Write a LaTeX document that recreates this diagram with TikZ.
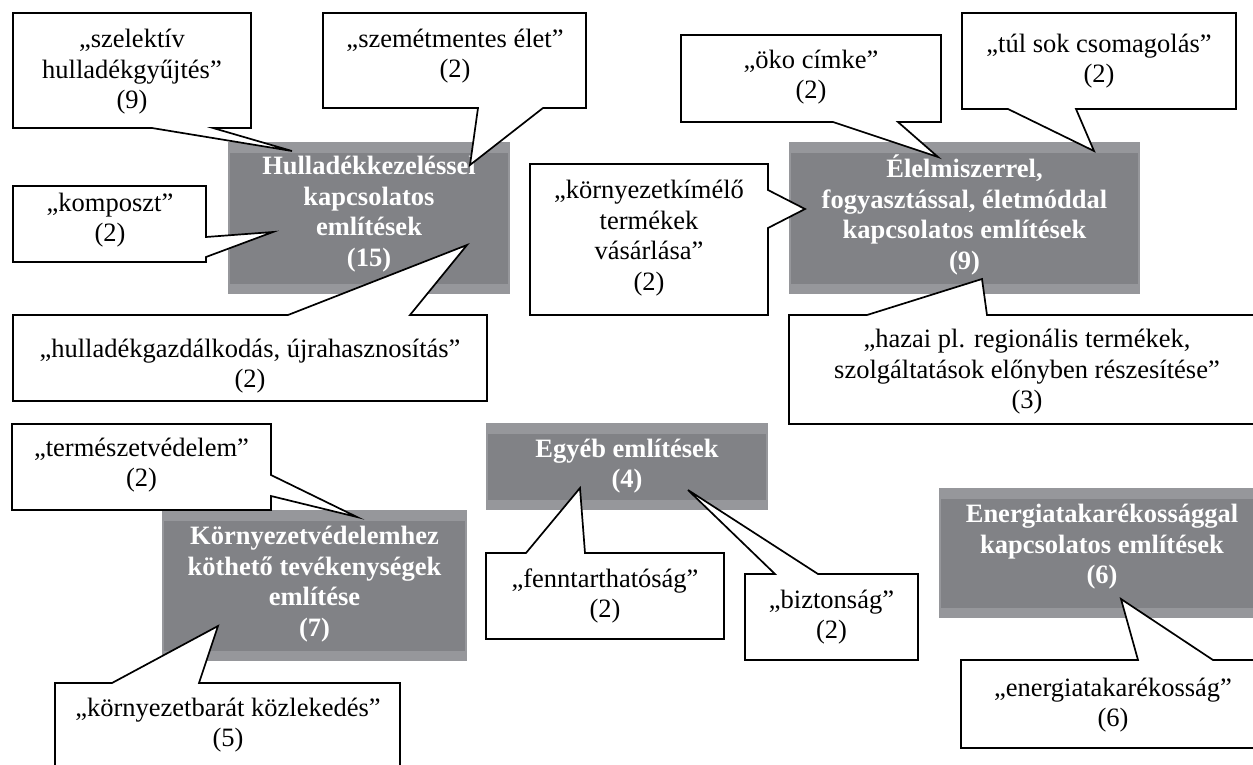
\documentclass[tikz,border=0pt]{standalone}
\usepackage{fontspec}
\setmainfont{Liberation Serif}
\definecolor{boxouter}{RGB}{150,151,155}
\definecolor{boxinner}{RGB}{129,130,134}
\tikzset{
  gbox/.style={rectangle, fill=boxouter, draw=none, inner sep=0pt},
  gtext/.style={text=white, font=\fontsize{26.5}{30.5}\selectfont\bfseries, align=center, inner sep=0pt},
  ctext/.style={text=black, font=\fontsize{26.5}{30.5}\selectfont, align=center, inner sep=0pt},
  callout/.style={fill=white, draw=black, line width=1.7pt, line join=miter},
}
\newcommand{\greybox}[4]{%
  % #1 name, #2 centre, #3 width, #4 height
  \node[gbox, minimum width=#3pt, minimum height=#4pt] (#1) at (#2) {};
  \fill[boxinner] ([xshift=2pt,yshift=-11pt]#1.north west) rectangle ([xshift=-2pt,yshift=10pt]#1.south east);
}
\begin{document}
\begin{tikzpicture}[x=1pt,y=-1pt]
\useasboundingbox (0,0) rectangle (1253,764);
\clip (0,0) rectangle (1253,764);
\fill[white] (0,0) rectangle (1253,764);

% ---------- grey category boxes ----------
\greybox{g1}{369,218}{282}{152}
\node[gtext] (t1) at (369,214) {Hulladékkezeléssel\\kapcsolatos\\említések\\(15)};

\greybox{g2}{964.5,218}{351}{152}
\node[gtext] (t2) at (964.5,215) {Élelmiszerrel,\\fogyasztással, életmóddal\\kapcsolatos említések\\(9)};

\greybox{g3}{627,466.5}{282}{87}
\node[gtext] (t3) at (627,466) {Egyéb említések\\(4)};

\greybox{g4}{314.5,585.5}{305}{151}
\node[gtext] (t4) at (314.5,584) {Környezetvédelemhez\\köthető tevékenységek\\említése\\(7)};

\greybox{g5}{1102,553}{326}{130}
\node[gtext] (t5) at (1102,547) {Energiatakarékossággal\\kapcsolatos említések\\(6)};

% ---------- callouts ----------
% szelektív
\coordinate (p1) at (292,151);
\path[callout] (13,13) -- (251,13) -- (251,128) -- (213,128) -- (p1) -- (152,128) -- (13,128) -- cycle;
\node[ctext] (c1) at (132,72) {„szelektív\\hulladékgyűjtés”\\(9)};

% szemétmentes
\coordinate (p2) at (470,165);
\path[callout] (323,13) -- (586,13) -- (586,108) -- (543,108) -- (p2) -- (478,108) -- (323,108) -- cycle;
\node[ctext] (c2) at (455,56) {„szemétmentes élet”\\(2)};

% komposzt
\coordinate (p3) at (273,232);
\path[callout] (13,186) -- (206,186) -- (206,237) -- (p3) -- (206,257) -- (206,262) -- (13,262) -- cycle;
\node[ctext] (c3) at (110,220) {„komposzt”\\(2)};

% hulladékgazdálkodás
\coordinate (p4) at (467,245);
\path[callout] (13,315) -- (288,315) -- (p4) -- (410,315) -- (487,315) -- (487,401) -- (13,401) -- cycle;
\node[ctext] (c4) at (250,366) {„hulladékgazdálkodás, újrahasznosítás”\\(2)};

% környezetkímélő
\coordinate (p5) at (805,209);
\path[callout] (530,164) -- (768,164) -- (768,190) -- (p5) -- (768,228) -- (768,315) -- (530,315) -- cycle;
\node[ctext] (c5) at (649,238) {„környezetkímélő\\termékek\\vásárlása”\\(2)};

% öko címke
\coordinate (p6) at (938,157);
\path[callout] (681,35) -- (941,35) -- (941,122) -- (898,122) -- (p6) -- (833,122) -- (681,122) -- cycle;
\node[ctext] (c6) at (811,77) {„öko címke”\\(2)};

% túl sok csomagolás
\coordinate (p7) at (1094,151);
\path[callout] (962,13) -- (1236,13) -- (1236,109) -- (1076,109) -- (p7) -- (1008,109) -- (962,109) -- cycle;
\node[ctext] (c7) at (1099,61) {„túl sok csomagolás”\\(2)};

% hazai
\coordinate (p8) at (982,279);
\path[callout] (789,315) -- (867,315) -- (p8) -- (987,315) -- (1265,315) -- (1265,424) -- (789,424) -- cycle;
\node[ctext] (c8) at (1027,372) {„hazai pl. regionális termékek,\\szolgáltatások előnyben részesítése”\\(3)};

% természetvédelem
\coordinate (p9) at (357,517);
\path[callout] (12,424) -- (271,424) -- (271,475) -- (p9) -- (271,496) -- (271,510) -- (12,510) -- cycle;
\node[ctext] (c9) at (141.5,465) {„természetvédelem”\\(2)};

% környezetbarát közlekedés
\coordinate (p10) at (218,626);
\path[callout] (55,683) -- (112,683) -- (p10) -- (199,683) -- (400,683) -- (400,780) -- (55,780) -- cycle;
\node[ctext] (c10) at (228,725) {„környezetbarát közlekedés”\\(5)};

% fenntarthatóság
\coordinate (p11) at (580,488);
\path[callout] (486,553) -- (526,553) -- (p11) -- (585,553) -- (724,553) -- (724,639) -- (486,639) -- cycle;
\node[ctext] (c11) at (605,596) {„fenntarthatóság”\\(2)};

% biztonság
\coordinate (p12) at (688,490);
\path[callout] (745,574) -- (775,574) -- (p12) -- (818,574) -- (918,574) -- (918,660) -- (745,660) -- cycle;
\node[ctext] (c12) at (831.5,617) {„biztonság”\\(2)};

% energiatakarékosság
\coordinate (p13) at (1121,599);
\path[callout] (961,660) -- (1138,660) -- (p13) -- (1213,660) -- (1265,660) -- (1265,748) -- (961,748) -- cycle;
\node[ctext] (c13) at (1113,705) {„energiatakarékosság”\\(6)};

\end{tikzpicture}
\end{document}
